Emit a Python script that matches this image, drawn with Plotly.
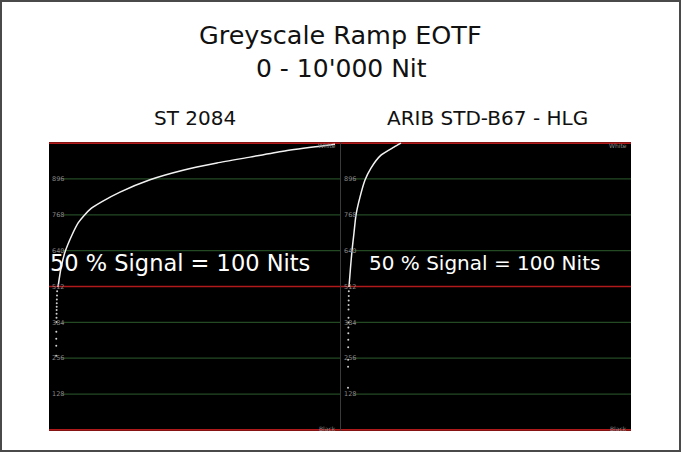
import plotly.graph_objects as go

W, H = 681, 452

# ---- data ----
levels = [0, 128, 256, 384, 512, 640, 768, 896, 1024]
level_labels = ["0", "128", "256", "384", "512", "640", "768", "896", "1024"]
red_levels = [0, 512, 1024]
green_levels = [128, 256, 384, 640, 768, 896]

# ST 2084 (PQ) ramp: x = luminance (nits), y = code value
pq_nits = [72, 179, 323, 573, 800, 1000, 1250, 1649, 2294, 3369, 4552, 5771, 6953, 8136, 9462, 10000]
pq_code = [510, 578, 635, 696, 740, 765, 790, 815, 849, 893, 927, 953, 974, 995, 1013, 1020]
pq_low_nits = [40, 35, 30, 28, 25, 22, 20, 18, 15, 12, 10, 8, 5]
pq_low_code = [495, 480, 466, 452, 440, 428, 415, 400, 385, 350, 325, 300, 265]

# ARIB STD-B67 (HLG) ramp
hlg_nits = [36, 90, 144, 216, 288, 432, 612, 827, 1187, 1655, 1906]
hlg_code = [510, 578, 639, 703, 767, 831, 892, 935, 981, 1010, 1024]
hlg_low_nits = [30, 28, 25, 22, 20, 18, 16, 14, 12, 10, 8, 6, 4, 2]
hlg_low_code = [495, 478, 462, 446, 430, 400, 383, 366, 345, 322, 295, 250, 225, 150]

title_lines = ["Greyscale Ramp EOTF", "0 - 10'000 Nit"]
panel_titles = ["ST 2084", "ARIB STD-B67 - HLG"]
overlay_text = "50 % Signal = 100 Nits"


def px(x):
    return x / W


def py(y):
    return 1 - y / H


fig = go.Figure()

curve_style = dict(color="#f2f2f2", width=1.5, shape="spline", smoothing=0.6)
dot_style = dict(color="#d0d0d0", size=2)

fig.add_trace(go.Scatter(x=pq_nits, y=pq_code, mode="lines", line=curve_style,
                         xaxis="x", yaxis="y", hoverinfo="skip"))
fig.add_trace(go.Scatter(x=pq_low_nits, y=pq_low_code, mode="markers", marker=dot_style,
                         xaxis="x", yaxis="y", hoverinfo="skip"))
fig.add_trace(go.Scatter(x=hlg_nits, y=hlg_code, mode="lines", line=curve_style,
                         xaxis="x2", yaxis="y2", hoverinfo="skip"))
fig.add_trace(go.Scatter(x=hlg_low_nits, y=hlg_low_code, mode="markers", marker=dot_style,
                         xaxis="x2", yaxis="y2", hoverinfo="skip"))

xr = [-251, 10179]
yr = [-4, 1028]
ydom = [py(431), py(142)]

xa = dict(range=xr, visible=False, fixedrange=True)
ya = dict(range=yr, domain=ydom, tickvals=levels, ticktext=level_labels,
          ticklabelposition="inside", showgrid=False, zeroline=False, ticks="",
          showline=False, tickfont=dict(size=6.5, color="#8a8a8a", family="DejaVu Sans"),
          fixedrange=True)

shapes = []
for xref, yref in (("x", "y"), ("x2", "y2")):
    for lv in green_levels:
        shapes.append(dict(type="line", xref=f"{xref} domain", yref=yref,
                           x0=0.045, x1=1, y0=lv, y1=lv,
                           line=dict(color="#244a24", width=1.2), layer="below"))
    for lv in red_levels:
        shapes.append(dict(type="line", xref=f"{xref} domain", yref=yref,
                           x0=0, x1=1, y0=lv, y1=lv,
                           line=dict(color="#b01a1a", width=1.6), layer="below"))

# separator between the two panels
shapes.append(dict(type="line", xref="paper", yref="paper", x0=px(340.5), x1=px(340.5),
                   y0=py(431), y1=py(142), line=dict(color="#3a3a3a", width=1)))
# outer frame
shapes.append(dict(type="rect", xref="paper", yref="paper", x0=px(1), x1=px(680),
                   y0=py(451), y1=py(1), line=dict(color="#4a4a4a", width=2)))

ann = []
font_main = "DejaVu Sans"


def txt(text, x, y, size, color, anchor="center"):
    ann.append(dict(text=text, x=px(x), y=py(y), xref="paper", yref="paper",
                    xanchor=anchor, yanchor="middle", showarrow=False,
                    font=dict(size=size, color=color, family=font_main)))


txt(title_lines[0], 340, 35, 25.5, "#111")
txt(title_lines[1], 341, 68, 25, "#111")
txt(panel_titles[0], 195, 118, 20, "#111")
txt(panel_titles[1], 487, 118, 20, "#111")
txt(overlay_text, 48, 263, 22.5, "#ffffff", anchor="left")
txt(overlay_text, 367, 263, 20, "#ffffff", anchor="left")
for x_ in (327, 618):
    txt("White", x_, 146, 6, "#8a8a8a")
    txt("Black", x_, 428, 6, "#8a8a8a")

fig.update_layout(
    width=W, height=H, autosize=False,
    margin=dict(l=0, r=0, t=0, b=0, pad=0),
    paper_bgcolor="#ffffff", plot_bgcolor="#000000",
    showlegend=False,
    xaxis=dict(xa, domain=[px(49), px(340)], anchor="y"),
    yaxis=dict(ya, anchor="x"),
    xaxis2=dict(xa, domain=[px(341), px(631)], anchor="y2"),
    yaxis2=dict(ya, anchor="x2"),
    shapes=shapes, annotations=ann,
)

fig.write_html("out.html", config=dict(displayModeBar=False),
               post_script="document.body.style.margin='0';document.body.style.overflow='hidden';")
